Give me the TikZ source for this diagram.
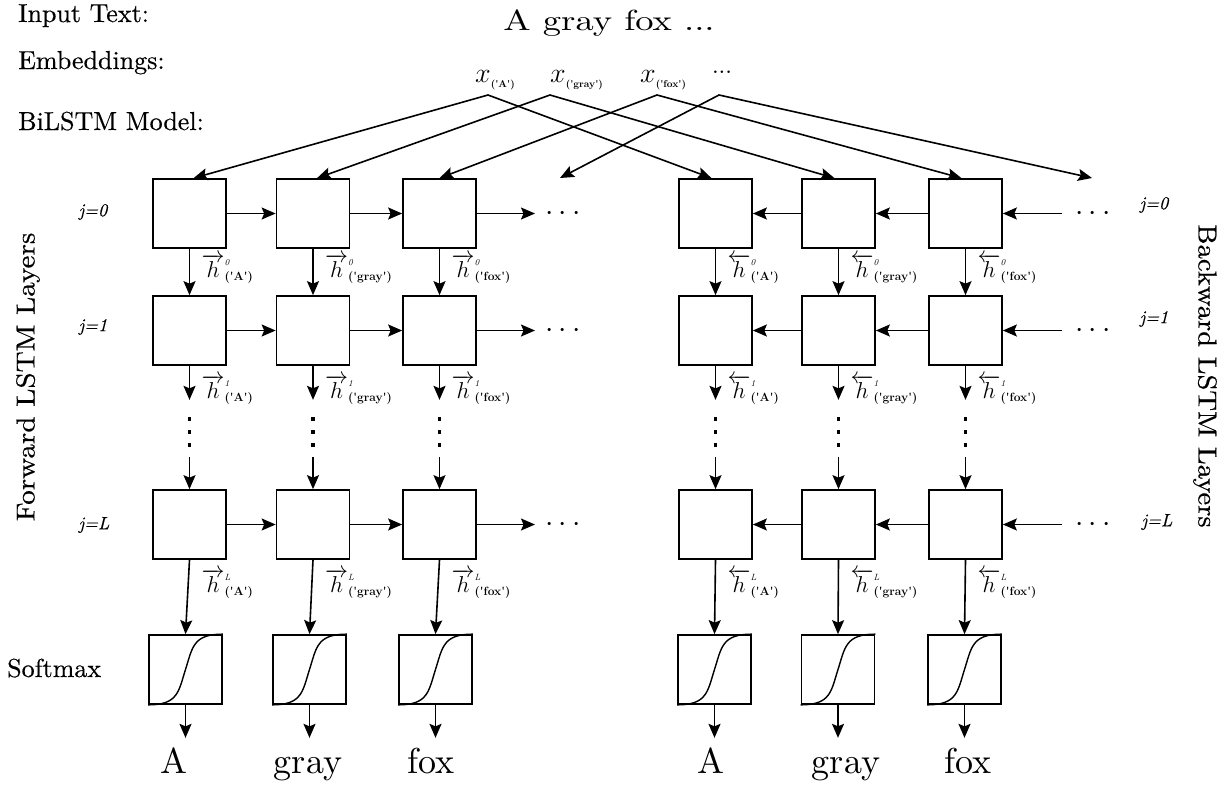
\RequirePackage{fix-cm}
\documentclass[tikz,border=0pt]{standalone}
\usepackage{fontspec}
\newfontfamily\hv{lmroman10-regular.otf}[FakeBold=0.4]
\newfontfamily\hvr{lmroman10-regular.otf}
\newfontfamily\hvi{lmroman10-italic.otf}[FakeBold=0.3]
\usetikzlibrary{arrows.meta,calc}
\newcommand\fs[1]{\fontsize{#1}{#1}\selectfont}
\newcommand\qw[1]{(\textquotesingle#1\textquotesingle)}
% hidden-state label: arrow command, layer index, word
\newcommand\hlab[3]{{\fs{23}$#1{h}$}\rlap{\raisebox{12pt}{\fs{9}\itshape #2}}\raisebox{-3pt}{\fs{12}\bfseries\qw{#3}}}
% embedding label
\newcommand\xlab[1]{{\fs{28}$x$}\raisebox{-5pt}{\fs{10}\bfseries\qw{#1}}}
\begin{document}
\begin{tikzpicture}[x=1pt,y=-1pt,
  cell/.style={draw,line width=1.7pt,minimum width=73pt,minimum height=69pt,inner sep=0pt},
  arr/.style={line width=1.6pt,-{Stealth[length=14pt,width=12pt,inset=2.5pt]}},
  arrs/.style={line width=1.6pt,{Stealth[length=14pt,width=12pt,inset=2.5pt]}-{Stealth[length=14pt,width=12pt,inset=2.5pt]}},
  side/.style={font=\hv\fs{26},inner sep=0pt},
  jlab/.style={font=\hvi\fs{18},inner sep=0pt},
  word/.style={font=\hvr\fs{36},inner sep=0pt,anchor=base},
  hl/.style={anchor=west,inner sep=0pt},
  dots/.style={font=\fs{30},inner sep=0pt},
  sig/.style={line width=1.4pt}]
\useasboundingbox (0,0) rectangle (1231,787);

% headings on the left
\node[side,anchor=base west] (tin) at (18,22) {Input Text:};
\node[side,anchor=base west] (temb) at (18,69) {Embeddings:};
\node[side,anchor=base west] (tmod) at (18,130) {BiLSTM Model:};
\node[side,anchor=base west] (tsm) at (7,677) {Softmax};
\node[side,rotate=90] (tfw) at (28,377) {\scalebox{1.12}[1]{Forward LSTM Layers}};
\node[side,rotate=-90] (tbw) at (1205,376) {\scalebox{1.10}[1]{Backward LSTM Layers}};

% input sentence and embeddings
\node[inner sep=0pt,anchor=base] (sent) at (609,30) {\scalebox{1.26}[1]{\hvr\fs{29}A gray fox ...}};
\node[inner sep=0pt,anchor=base west] (eA) at (475,82) {\xlab{A}};
\node[inner sep=0pt,anchor=base west] (eG) at (550,82) {\xlab{gray}};
\node[inner sep=0pt,anchor=base west] (eF) at (640,82) {\xlab{fox}};
\node[inner sep=0pt,anchor=base] (eD) at (722,73) {\hvr\fs{24}...};
\coordinate (apA) at (488,95);
\coordinate (apG) at (550,95);
\coordinate (apF) at (657,95);
\coordinate (apD) at (719,95);
\coordinate (ffr) at (560,178);
\coordinate (bfr) at (1092,178);

% forward LSTM cells
\foreach \c/\x/\w in {0/189.5/A,1/313/gray,2/439.5/fox}{
  \node[cell] (f0\c) at (\x,213.5) {};
  \node[cell] (f1\c) at (\x,330.5) {};
  \node[cell] (fL\c) at (\x,524.5) {};
  \draw[arr] (f0\c.south) -- (f1\c.north);
  \coordinate (fe\c) at ($(f1\c.south)+(0,34)$);
  \draw[arr] (f1\c.south) -- (fe\c);
  \foreach \d in {53,66,79}{\fill ($(f1\c.south)+(-1.8,\d-1.8)$) rectangle +(3.6,3.6);}
  \coordinate (fb\c) at ($(fL\c.north)+(0,-32)$);
  \draw[arr] (fb\c) -- (fL\c.north);
  \node[hl] (hf0\c) at ($(f0\c.south)+(12,20)$) {\hlab{\overrightarrow}{0}{\w}};
  \node[hl] (hf1\c) at ($(f1\c.south)+(12,24)$) {\hlab{\overrightarrow}{1}{\w}};
  \node[hl] (hfL\c) at ($(fL\c.south)+(12,24)$) {\hlab{\overrightarrow}{L}{\w}};
}
% backward LSTM cells
\foreach \c/\x/\w in {0/715.5/A,1/838.5/gray,2/965.5/fox}{
  \node[cell] (b0\c) at (\x,213.5) {};
  \node[cell] (b1\c) at (\x,330.5) {};
  \node[cell] (bL\c) at (\x,524.5) {};
  \draw[arr] (b0\c.south) -- (b1\c.north);
  \coordinate (be\c) at ($(b1\c.south)+(0,34)$);
  \draw[arr] (b1\c.south) -- (be\c);
  \foreach \d in {53,66,79}{\fill ($(b1\c.south)+(-1.8,\d-1.8)$) rectangle +(3.6,3.6);}
  \coordinate (bb\c) at ($(bL\c.north)+(0,-32)$);
  \draw[arr] (bb\c) -- (bL\c.north);
  \node[hl] (hb0\c) at ($(b0\c.south)+(12,20)$) {\hlab{\overleftarrow}{0}{\w}};
  \node[hl] (hb1\c) at ($(b1\c.south)+(12,24)$) {\hlab{\overleftarrow}{1}{\w}};
  \node[hl] (hbL\c) at ($(bL\c.south)+(12,24)$) {\hlab{\overleftarrow}{L}{\w}};
}

% recurrent connections
\foreach \r/\y in {0/213.5,1/330.5,L/524.5}{
  \draw[arr] (f\r0.east) -- (f\r1.west);
  \draw[arr] (f\r1.east) -- (f\r2.west);
  \coordinate (ft\r) at (535,\y);
  \draw[arr] (f\r2.east) -- (ft\r);
  \node[dots] (fd\r) at (563,\y) {$\cdots$};
  \coordinate (bt\r) at (1062,\y);
  \draw[arr] (bt\r) -- (b\r2.east);
  \draw[arr] (b\r2.west) -- (b\r1.east);
  \draw[arr] (b\r1.west) -- (b\r0.east);
  \node[dots] (bd\r) at (1093,\y) {$\cdots$};
}

% layer indices
\node[jlab] (jl0) at (93,212) {j=0};
\node[jlab] (jl1) at (93,327) {j=1};
\node[jlab] (jlL) at (94,525) {j=L};
\node[jlab] (jr0) at (1154,205) {j=0};
\node[jlab] (jr1) at (1154,319) {j=1};
\node[jlab] (jrL) at (1157,522) {j=L};

% embeddings feed both directions
\draw[arrs] ([xshift=4pt]f00.north) -- (apA) -- ([xshift=-4pt]b00.north);
\draw[arrs] ([xshift=4pt]f01.north) -- (apG) -- ([xshift=-4pt]b01.north);
\draw[arrs] (f02.north) -- (apF) -- ([xshift=-4pt]b02.north);
\draw[arrs] (ffr) -- (apD) -- (bfr);

% softmax layer and outputs
\foreach \c/\x in {0/185.5,1/309.5,2/435.5}{
  \node[cell] (sf\c) at (\x,669.5) {};
  \draw[sig] (sf\c.south west) .. controls +(30,0) and +(-7,22) .. (sf\c.center)
             .. controls +(7,-22) and +(-30,0) .. (sf\c.north east);
  \draw[arr] (fL\c.south) -- (sf\c.north);
  \coordinate (fo\c) at ($(sf\c.south)+(0,33)$);
  \draw[arr] (sf\c.south) -- (fo\c);
}
\foreach \c/\x in {0/714.5,1/838,2/964.5}{
  \node[cell] (sb\c) at (\x,669.5) {};
  \draw[sig] (sb\c.south west) .. controls +(30,0) and +(-7,22) .. (sb\c.center)
             .. controls +(7,-22) and +(-30,0) .. (sb\c.north east);
  \draw[arr] (bL\c.south) -- (sb\c.north);
  \coordinate (bo\c) at ($(sb\c.south)+(0,33)$);
  \draw[arr] (sb\c.south) -- (bo\c);
}
\node[word] (owf0) at (174,773) {A};
\node[word] (owf1) at (308,773) {gray};
\node[word] (owf2) at (431,773) {fox};
\node[word] (owb0) at (711,773) {A};
\node[word] (owb1) at (846,773) {gray};
\node[word] (owb2) at (968,773) {fox};
\end{tikzpicture}
\end{document}
